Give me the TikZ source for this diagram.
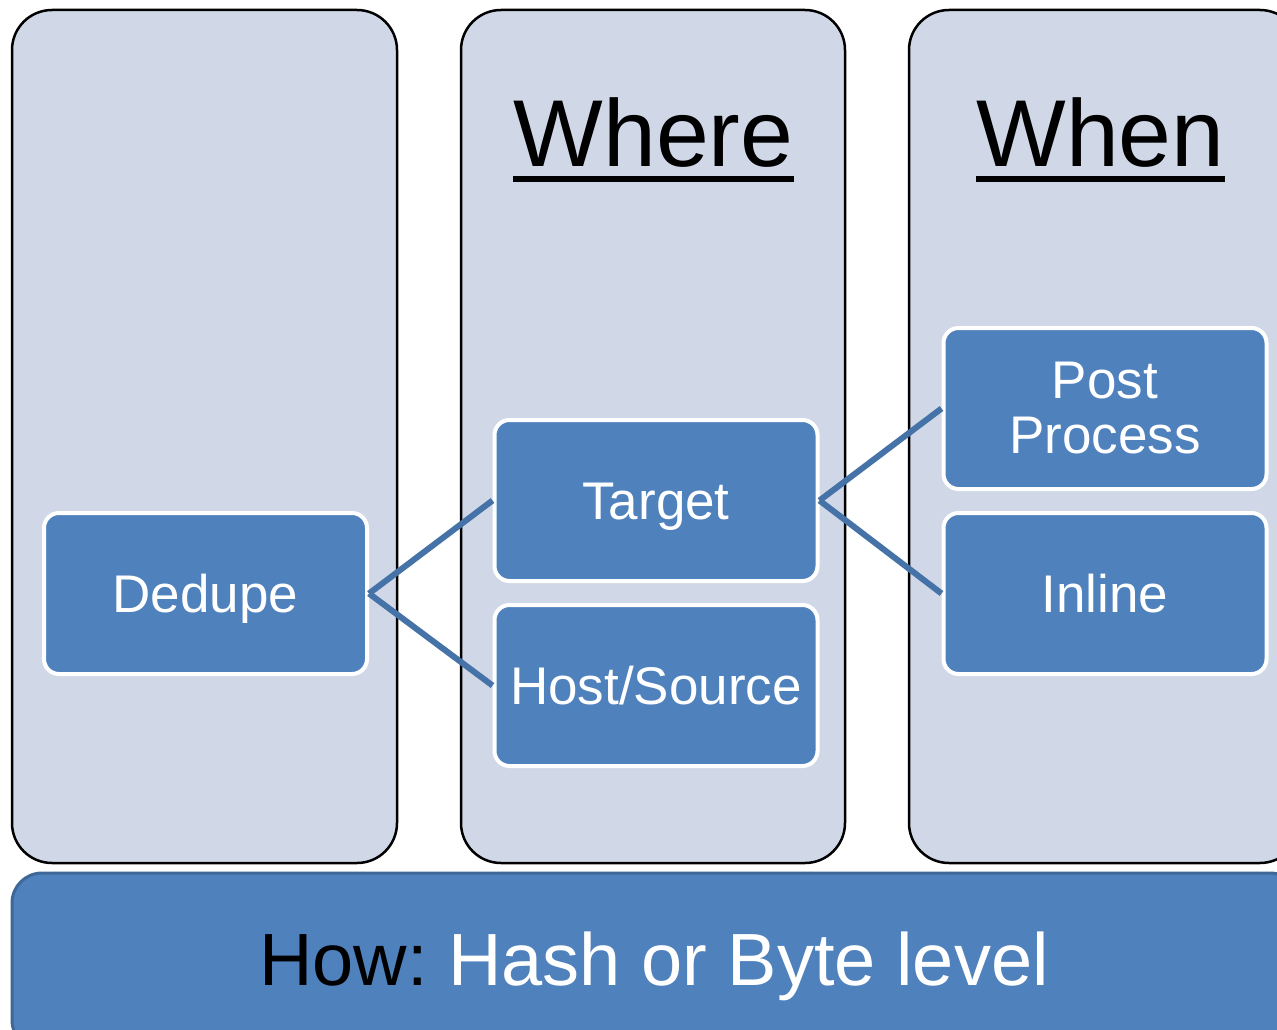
\documentclass[tikz,border=0pt]{standalone}
\usepackage{fontspec}
\setmainfont{Liberation Sans}
\definecolor{colfill}{RGB}{208,216,232}
\definecolor{boxfill}{RGB}{79,129,189}
\definecolor{linkcol}{RGB}{69,114,167}
\definecolor{barborder}{RGB}{62,104,152}
\tikzset{
  column/.style={draw=black,line width=2.5pt,fill=colfill,rounded corners=40pt},
  itembox/.style={draw=white,line width=4pt,fill=boxfill,rounded corners=15pt,
    minimum width=323pt,minimum height=161pt,inner sep=0pt,text=white,
    font=\fontsize{53}{55}\selectfont,align=center},
  oneline/.style={text height=37pt,text depth=0pt},
  link/.style={draw=linkcol,line width=6pt},
  titletext/.style={font=\fontsize{95}{100}\selectfont,inner sep=0pt,anchor=base},
  uline/.style={line width=5.5pt,black},
  barbox/.style={draw=barborder,line width=3pt,fill=boxfill,rounded corners=30pt}
}
\begin{document}
\begin{tikzpicture}[x=1pt,y=-1pt]
\useasboundingbox (0,0) rectangle (1277,1030);
\clip (0,0) rectangle (1277,1030);
\fill[white] (0,0) rectangle (1277,1030);
% columns
\draw[column] (12,10) rectangle (397,863);
\draw[column] (461,10) rectangle (845,863);
\draw[column] (909,10) rectangle (1300,863);
% bottom bar
\draw[barbox] (12,873) rectangle (1300,1050);
\node[inner sep=0pt,anchor=base,font=\fontsize{74}{80}\selectfont] (how) at (654,985)
  {\textcolor{black}{How:}\ \textcolor{white}{Hash or Byte level}};
% titles
\node[titletext] (where) at (653.5,167) {Where};
\draw[uline] ([yshift=-12pt]where.base west) -- ([yshift=-12pt]where.base east);
\node[titletext] (when) at (1100.5,167) {When};
\draw[uline] ([yshift=-12pt]when.base west) -- ([yshift=-12pt]when.base east);
% boxes
\node[itembox,oneline] (dedupe) at (205.5,593.5) {Dedupe};
\node[itembox,oneline] (target) at (656,500.5) {Target};
\node[itembox,oneline] (host) at (656,685.5) {Host/Source};
\node[itembox] (post) at (1105,408.5) {Post\\Process};
\node[itembox,oneline] (inline) at (1105,593.5) {Inline};
% connectors
\draw[link] (dedupe.east) -- (target.west);
\draw[link] (dedupe.east) -- (host.west);
\draw[link] (target.east) -- (post.west);
\draw[link] (target.east) -- (inline.west);
\end{tikzpicture}
\end{document}
